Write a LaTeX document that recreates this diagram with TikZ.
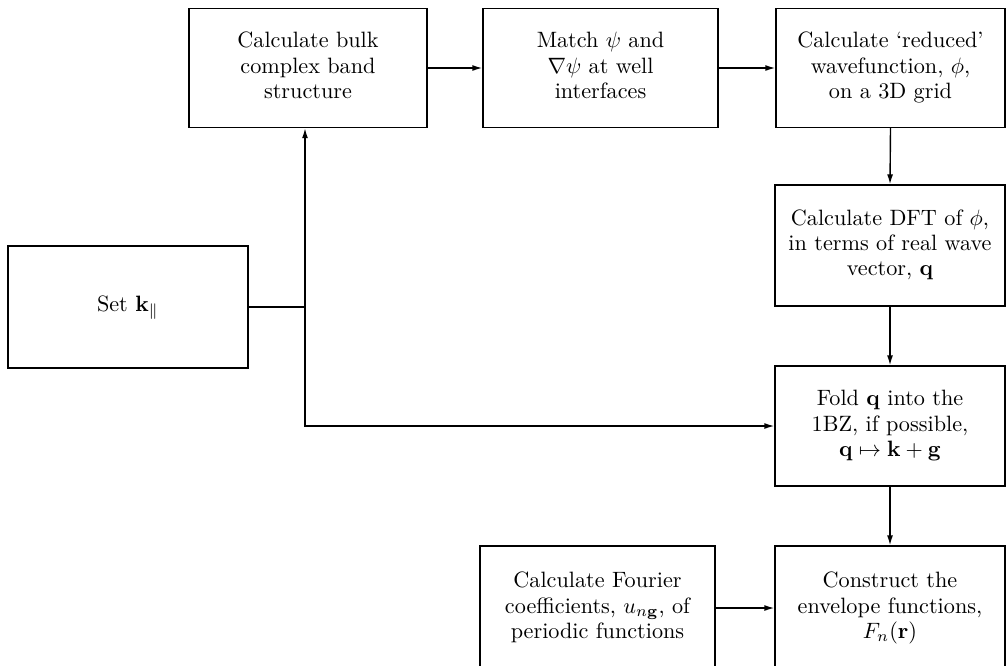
\documentclass[tikz,border=0pt]{standalone}
\usepackage{graphicx}
\usetikzlibrary{arrows.meta}
\newcommand\boxtext[1]{\scalebox{2.22}{\renewcommand\arraystretch{0.94}\begin{tabular}{@{}c@{}}#1\end{tabular}}}
\begin{document}
\begin{tikzpicture}[x=1pt,y=-1pt,
  box/.style={draw,line width=1.4pt,inner sep=0pt,align=center},
  conn/.style={line width=1.4pt},
  arr/.style={conn,-{Latex[length=10pt,width=6pt]}}]
\useasboundingbox (0,0) rectangle (1006,665);
\clip (0,0) rectangle (1006,665);
\node[box,minimum width=240,minimum height=122] (set) at (128,307) {\boxtext{Set $\mathbf{k}_{\|}$}};
\node[box,minimum width=238,minimum height=119] (bulk) at (308,68) {\boxtext{Calculate bulk\\complex band\\structure}};
\node[box,minimum width=235,minimum height=119] (match) at (600.5,68) {\boxtext{Match $\psi$ and\\$\nabla\psi$ at well\\interfaces}};
\node[box,minimum width=229,minimum height=119] (red) at (890.5,68) {\boxtext{Calculate `reduced'\\wavefunction, $\phi$,\\on a 3D grid}};
\node[box,minimum width=230,minimum height=121] (dft) at (890,245.5) {\boxtext{Calculate DFT of $\phi$,\\in terms of real wave\\vector, $\mathbf{q}$}};
\node[box,minimum width=230,minimum height=120] (fold) at (890,426) {\boxtext{Fold $\mathbf{q}$ into the\\1BZ, if possible,\\$\mathbf{q}\mapsto\mathbf{k}+\mathbf{g}$}};
\node[box,minimum width=230,minimum height=124] (cons) at (890,608) {\boxtext{Construct the\\envelope functions,\\$F_n(\mathbf{r})$}};
\node[box,minimum width=235,minimum height=124] (four) at (597.5,608) {\boxtext{Calculate Fourier\\coefficients, $u_{n\mathbf{g}}$, of\\periodic functions}};
\coordinate (j) at (305,307);
\draw[conn] (set.east) -- (j);
\draw[arr] (j) -- (j |- bulk.south);
\draw[arr] (j) -- (j |- fold.west) -- (fold.west);
\draw[arr] (bulk.east) -- (match.west);
\draw[arr] (match.east) -- (red.west);
\draw[arr] (red.south) -- (dft.north);
\draw[arr] (dft.south) -- (fold.north);
\draw[arr] (fold.south) -- (cons.north);
\draw[arr] (four.east) -- (cons.west);
\end{tikzpicture}
\end{document}
